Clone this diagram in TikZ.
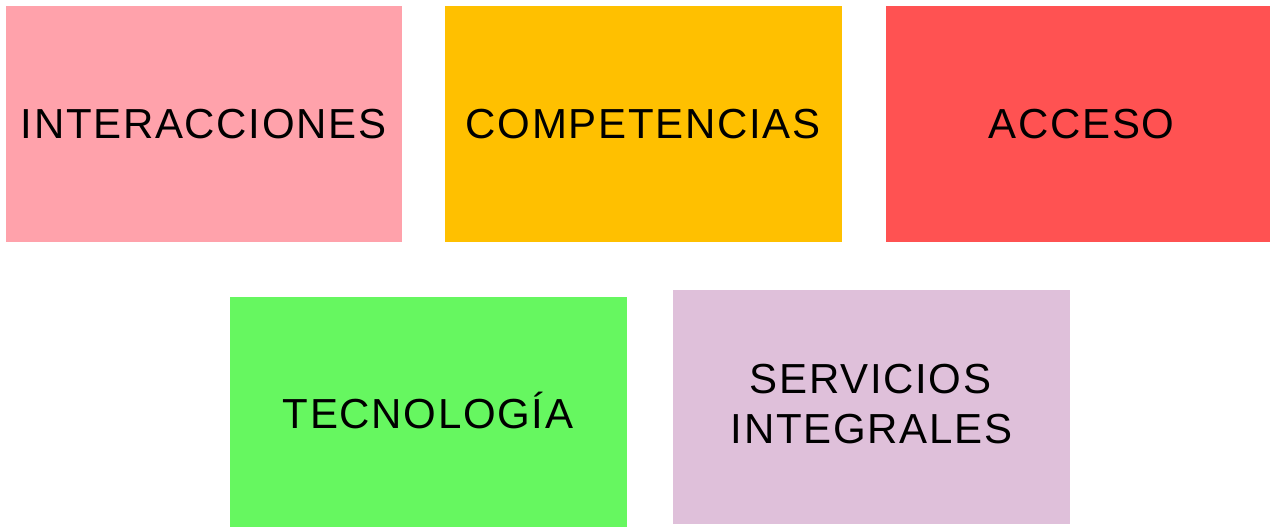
\documentclass[tikz,border=0pt]{standalone}
\usepackage{fontspec}
\setmainfont{Liberation Sans}[LetterSpace=4]
\definecolor{cpink}{HTML}{FFA2AB}
\definecolor{corange}{HTML}{FFC000}
\definecolor{cred}{HTML}{FF5252}
\definecolor{cgreen}{HTML}{66F760}
\definecolor{cpurple}{HTML}{DFC0DA}
\begin{document}
\begin{tikzpicture}[x=1pt,y=-1pt,
  box/.style={draw=none,inner sep=0pt,anchor=center},
  lbl/.style={inner sep=0pt,anchor=base,text=black,
    font=\fontsize{42}{50}\selectfont}]
\useasboundingbox[fill=white] (0,0) rectangle (1270,527);
\node[box,fill=cpink,minimum width=396pt,minimum height=236pt] (inter) at (204,124) {};
\node[box,fill=corange,minimum width=397pt,minimum height=236pt] (comp) at (643.5,124) {};
\node[box,fill=cred,minimum width=384pt,minimum height=236pt] (acc) at (1078,124) {};
\node[box,fill=cgreen,minimum width=397pt,minimum height=230pt] (tec) at (428.5,412) {};
\node[box,fill=cpurple,minimum width=397pt,minimum height=234pt] (serv) at (871.5,407) {};
\node[lbl] (tinter) at (203.5,138) {INTERACCIONES};
\node[lbl] (tcomp) at (643,138) {COMPETENCIAS};
\node[lbl] (tacc) at (1081.5,138) {ACCESO};
\node[lbl] (ttec) at (428,428) {TECNOLOGÍA};
\node[lbl] (tserv1) at (870.5,393) {SERVICIOS};
\node[lbl] (tserv2) at (871.5,443) {INTEGRALES};
\end{tikzpicture}
\end{document}
